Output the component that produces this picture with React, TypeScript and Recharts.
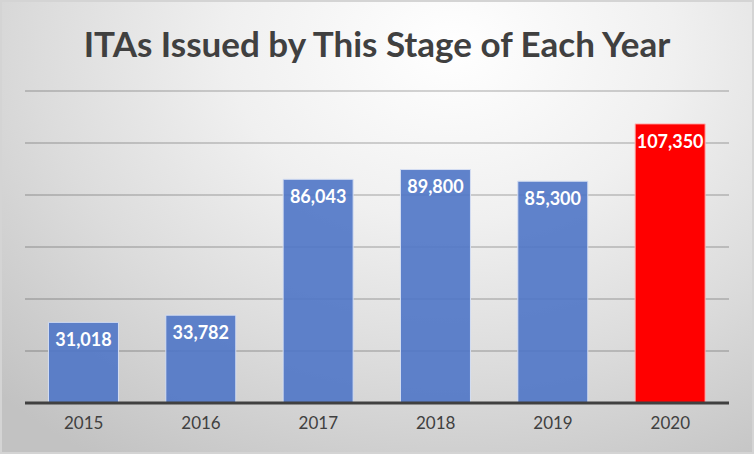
import React from 'react';
import { BarChart, Bar, XAxis, YAxis, CartesianGrid, Cell, LabelList } from 'recharts';

const years = ['2015', '2016', '2017', '2018', '2019', '2020'];
const itas = [31018, 33782, 86043, 89800, 85300, 107350];
const yTicks = [0, 20000, 40000, 60000, 80000, 100000, 120000];

const data = years.map((year, i) => ({ year, itas: itas[i] }));

const fmt = (v: number) => v.toLocaleString('en-US');

export default function App() {
  return (
    <div
      style={{
        position: 'absolute',
        left: 0,
        top: 0,
        width: 754,
        height: 454,
        boxSizing: 'border-box',
        border: '2px solid #d4d4d4',
        background: 'radial-gradient(ellipse 85% 110% at 60% 10%, #ffffff 0%, #f0f0f0 35%, #dcdcdc 65%, #c2c2c2 100%)',
        fontFamily: 'Lato, "Open Sans", sans-serif',
      }}
    >
      <div
        style={{
          position: 'absolute',
          left: 0,
          top: 21,
          width: 750,
          textAlign: 'center',
          fontSize: 35,
          fontWeight: 700,
          color: '#404040',
          lineHeight: '40px',
        }}
      >
        ITAs Issued by This Stage of Each Year
      </div>
      <BarChart
        width={750}
        height={450}
        data={data}
        margin={{ top: 89, right: 23, bottom: 19, left: 23 }}
        barCategoryGap="20%"
      >
        <CartesianGrid vertical={false} stroke="#000" strokeOpacity={0.22} strokeWidth={1.5} />
        <YAxis hide domain={[0, 120000]} ticks={yTicks} />
        <XAxis
          dataKey="year"
          height={30}
          tickLine={false}
          axisLine={{ stroke: '#404040', strokeWidth: 3 }}
          tick={{ fill: '#404040', fontSize: 17 }}
          tickMargin={8}
        />
        <Bar dataKey="itas" isAnimationActive={false} strokeWidth={1}>
          {data.map((d) => (
            <Cell
              key={d.year}
              fill={d.year === '2020' ? '#ff0000' : '#4f76c6'}
              fillOpacity={d.year === '2020' ? 1 : 0.9}
              stroke={d.year === '2020' ? '#ffb3b3' : '#d5def2'}
            />
          ))}
          <LabelList
            dataKey="itas"
            position="insideTop"
            offset={11}
            formatter={(v: any) => fmt(Number(v))}
            style={{ fill: '#ffffff', fontSize: 18, fontWeight: 700 }}
          />
        </Bar>
      </BarChart>
    </div>
  );
}
